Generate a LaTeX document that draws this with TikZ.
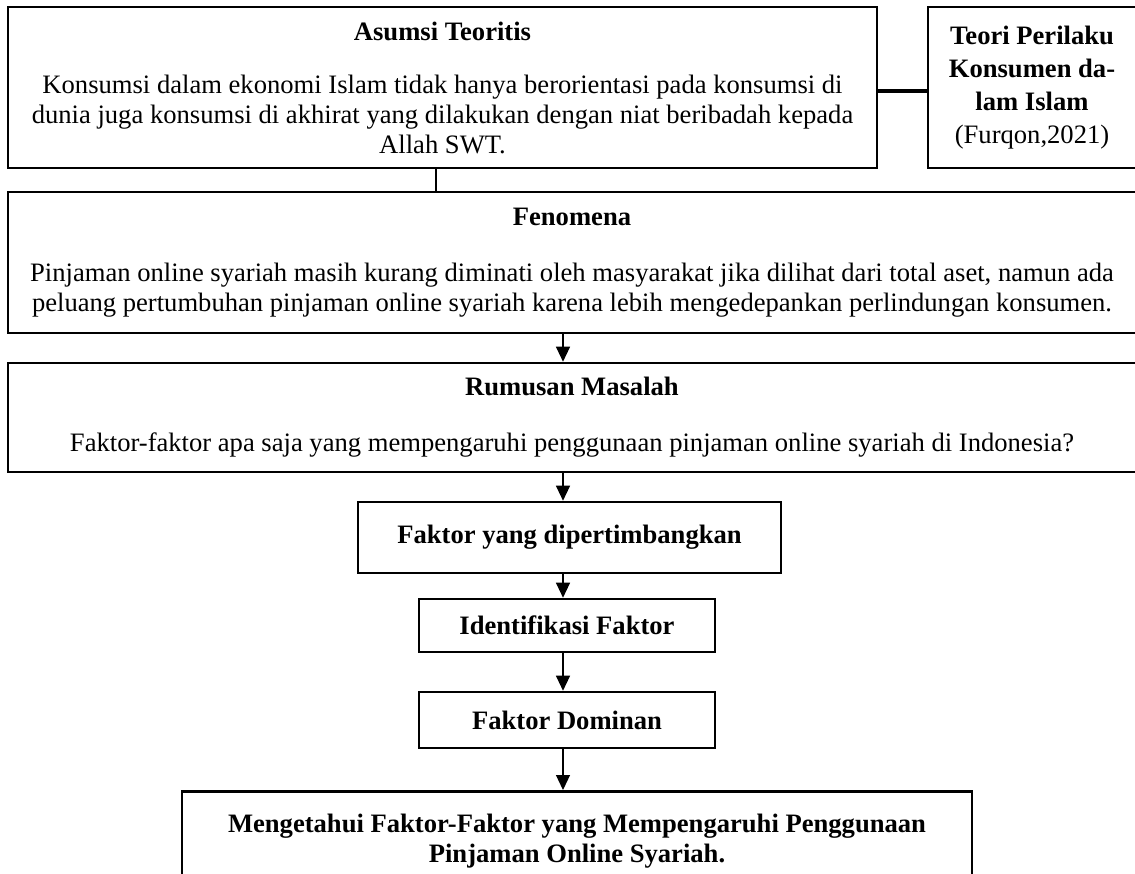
\documentclass[tikz,border=0pt]{standalone}
\usepackage{fontspec}
\setmainfont{Liberation Serif}
\usetikzlibrary{arrows.meta}

\tikzset{
  kotak/.style={draw, line width=2.6pt, align=center, inner sep=0pt},
  panah/.style={line width=1.2pt, -{Triangle[width=14pt,length=15pt]}},
}

\begin{document}
\begin{tikzpicture}[x=1pt, y=-1pt, font=\fontsize{26.6}{30}\selectfont]
    \useasboundingbox (0,0) rectangle (1135,874);

    % 1. 顶部两个框：假设与理论
    \node[kotak, minimum width=869, minimum height=161] (asumsi) at (442.5,87.5)
        {\textbf{Asumsi Teoritis}\\[23pt]
         Konsumsi dalam ekonomi Islam tidak hanya berorientasi pada konsumsi di\\
         dunia juga konsumsi di akhirat yang dilakukan dengan niat beribadah kepada\\
         Allah SWT.};
    \node[kotak, minimum width=208, minimum height=161, font=\fontsize{26.6}{33}\selectfont] (teori) at (1032,87.5)
        {\textbf{Teori Perilaku}\\ \textbf{Konsumen da-}\\ \textbf{lam Islam}\\ (Furqon,2021)};
    \coordinate (tengah) at (0,91);
    \draw[line width=3.8pt] (asumsi.east |- tengah) -- (teori.west |- tengah);

    % 2. 现象与问题
    \node[kotak, minimum width=1128, minimum height=141] (fenomena) at (572,262.5)
        {\textbf{Fenomena}\\[26pt]
         Pinjaman online syariah masih kurang diminati oleh masyarakat jika dilihat dari total aset, namun ada\\
         peluang pertumbuhan pinjaman online syariah karena lebih mengedepankan perlindungan konsumen.};
    \node[kotak, minimum width=1128, minimum height=109] (rumusan) at (572,417.5)
        {\textbf{Rumusan Masalah}\\[26pt]
         Faktor-faktor apa saja yang mempengaruhi penggunaan pinjaman online syariah di Indonesia?};

    % 3. 中间的三个小框
    \node[kotak, minimum width=423, minimum height=71] (faktor) at (569.5,537.5) {\textbf{Faktor yang dipertimbangkan}};
    \node[kotak, minimum width=296, minimum height=53] (identifikasi) at (567,625.5) {\textbf{Identifikasi Faktor}};
    \node[kotak, minimum width=296, minimum height=56] (dominan) at (567,720) {\textbf{Faktor Dominan}};

    % 4. 底部结论框（下边超出画面）
    \node[kotak, anchor=north, minimum width=790, minimum height=100] (tujuan) at (577,790)
        {\textbf{Mengetahui Faktor-Faktor yang Mempengaruhi Penggunaan}\\
         \textbf{Pinjaman Online Syariah.}};

    % 5. 连线：竖直主轴 x = 563
    \coordinate (poros) at (563,0);
    \coordinate (kiri) at (436,0);
    \draw[line width=1.2pt] (asumsi.south -| kiri) -- (fenomena.north -| kiri);
    \draw[panah] (fenomena.south -| poros) -- (rumusan.north -| poros);
    \draw[panah] (rumusan.south -| poros) -- (faktor.north -| poros);
    \draw[panah] (faktor.south -| poros) -- (identifikasi.north -| poros);
    \draw[panah] (identifikasi.south -| poros) -- (dominan.north -| poros);
    \draw[panah] (dominan.south -| poros) -- (tujuan.north -| poros);

\end{tikzpicture}
\end{document}
